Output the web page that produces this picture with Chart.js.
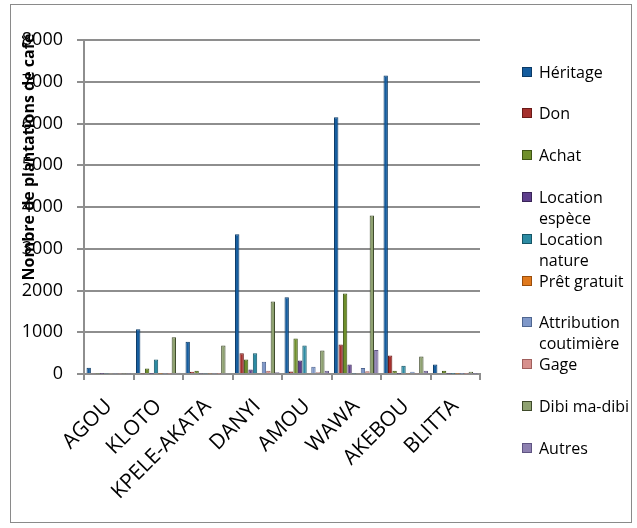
<!DOCTYPE html>
<html>
<head>
<meta charset="utf-8">
<script src="https://cdn.jsdelivr.net/npm/chart.js@4.4.1/dist/chart.umd.min.js"></script>
<style>
  body { margin: 0; background: #fff; }
  #wrap { position: relative; width: 637px; height: 528px; }
  #legend { position: absolute; left: 522px; top: 0; font: 16px "Open Sans", sans-serif; color: #000; }
  .item { position: absolute; left: 0; width: 115px; line-height: 21px; }
  .box { position: absolute; left: 0; top: 5px; width: 10px; height: 10px; box-sizing: border-box; border: 1px solid; }
  .txt { margin-left: 17px; width: 98px; }
</style>
</head>
<body>
<div id="wrap">
  <canvas id="chart" width="637" height="528"></canvas>
  <div id="legend"></div>
</div>
<script>
const categories = ['AGOU', 'KLOTO', 'KPELE-AKATA', 'DANYI', 'AMOU', 'WAWA', 'AKEBOU', 'BLITTA'];
const yTicks = [0, 1000, 2000, 3000, 4000, 5000, 6000, 7000, 8000];

const seriesNames = ['Héritage', 'Don', 'Achat', 'Location espèce', 'Location nature', 'Prêt gratuit',
  'Attribution coutimière', 'Gage', 'Dibi ma-dibi', 'Autres'];

const heritage = [150, 1070, 775, 3350, 1840, 6150, 7150, 225];
const don = [15, 10, 55, 495, 60, 705, 445, 25];
const achat = [10, 130, 80, 345, 850, 1930, 80, 80];
const locationEspece = [5, 5, 10, 105, 325, 225, 5, 5];
const locationNature = [10, 350, 10, 495, 680, 10, 200, 5];
const pretGratuit = [15, 5, 10, 20, 15, 15, 10, 5];
const attribution = [10, 10, 10, 295, 175, 145, 55, 5];
const gage = [10, 5, 5, 80, 40, 65, 10, 5];
const dibi = [10, 880, 685, 1735, 560, 3795, 420, 55];
const autres = [10, 30, 25, 40, 80, 575, 80, 5];

const seriesValues = [heritage, don, achat, locationEspece, locationNature, pretGratuit, attribution, gage, dibi, autres];

const fills = ['#145C9E', '#A5302D', '#6F8F2B', '#5E3F8C', '#2C8BA3', '#E0791C', '#7F98C9', '#D7908D', '#8FA271', '#8D80B0'];
const edges = ['#0B3A66', '#6A1A18', '#3F5515', '#3A2458', '#155566', '#9A4E0C', '#4F6690', '#A05F5C', '#3E4A2A', '#5F5482'];

const gridColor = '#8e8e8e';
const font = '"Open Sans", sans-serif';

const frame = {
    id: 'frame',
    beforeDraw(chart) {
        const ctx = chart.ctx;
        ctx.save();
        ctx.strokeStyle = '#8a8a8a';
        ctx.lineWidth = 1;
        ctx.strokeRect(10.5, 4.5, 621, 518);
        ctx.restore();
    }
};

// y title drawn by hand: in the original it sits over the tick labels
const yTitle = {
    id: 'yTitle',
    afterDraw(chart) {
        const ctx = chart.ctx;
        ctx.save();
        ctx.translate(29, 157);
        ctx.rotate(-Math.PI / 2);
        ctx.font = 'bold 16px ' + font;
        ctx.fillStyle = '#000';
        ctx.textAlign = 'center';
        ctx.textBaseline = 'middle';
        ctx.fillText('Nombre de plantations de café', 0, 0);
        ctx.restore();
    }
};

new Chart(document.getElementById('chart'), {
    type: 'bar',
    data: {
        labels: categories,
        datasets: seriesNames.map((name, i) => ({
            label: name,
            data: seriesValues[i],
            backgroundColor: fills[i],
            borderColor: edges[i],
            borderWidth: 1,
            categoryPercentage: 0.9,
            barPercentage: 0.98
        }))
    },
    options: {
        responsive: false,
        animation: false,
        layout: { padding: { top: 40, right: 157, left: 0, bottom: 0 } },
        plugins: {
            legend: { display: false },
            tooltip: { enabled: false }
        },
        scales: {
            x: {
                afterFit: (scale) => { scale.height = 154; },
                grid: { display: true, drawOnChartArea: false, offset: true, tickLength: 6, color: gridColor, lineWidth: 2 },
                border: { display: true, color: gridColor, width: 2 },
                ticks: {
                    autoSkip: false, minRotation: 45, maxRotation: 45, padding: 14,
                    color: '#000', font: { family: font, size: 21 }
                }
            },
            y: {
                min: 0,
                max: 8000,
                afterFit: (scale) => { scale.width = 84; },
                afterBuildTicks: (scale) => { scale.ticks = yTicks.map(v => ({ value: v })); },
                grid: { color: gridColor, lineWidth: 2, tickLength: 7 },
                border: { display: true, color: gridColor, width: 2 },
                ticks: {
                    padding: 14, color: '#000', font: { family: font, size: 18 },
                    callback: (v) => String(v)
                }
            }
        }
    },
    plugins: [frame, yTitle]
});

// legend built by hand to get the wrapped two-line entries
const legend = document.getElementById('legend');
seriesNames.forEach((name, i) => {
    const item = document.createElement('div');
    item.className = 'item';
    item.style.top = (72 + i * 41.8 - 10.5) + 'px';
    const box = document.createElement('div');
    box.className = 'box';
    box.style.background = fills[i];
    box.style.borderColor = edges[i];
    const txt = document.createElement('div');
    txt.className = 'txt';
    txt.textContent = name;
    item.appendChild(box);
    item.appendChild(txt);
    legend.appendChild(item);
});
</script>
</body>
</html>
